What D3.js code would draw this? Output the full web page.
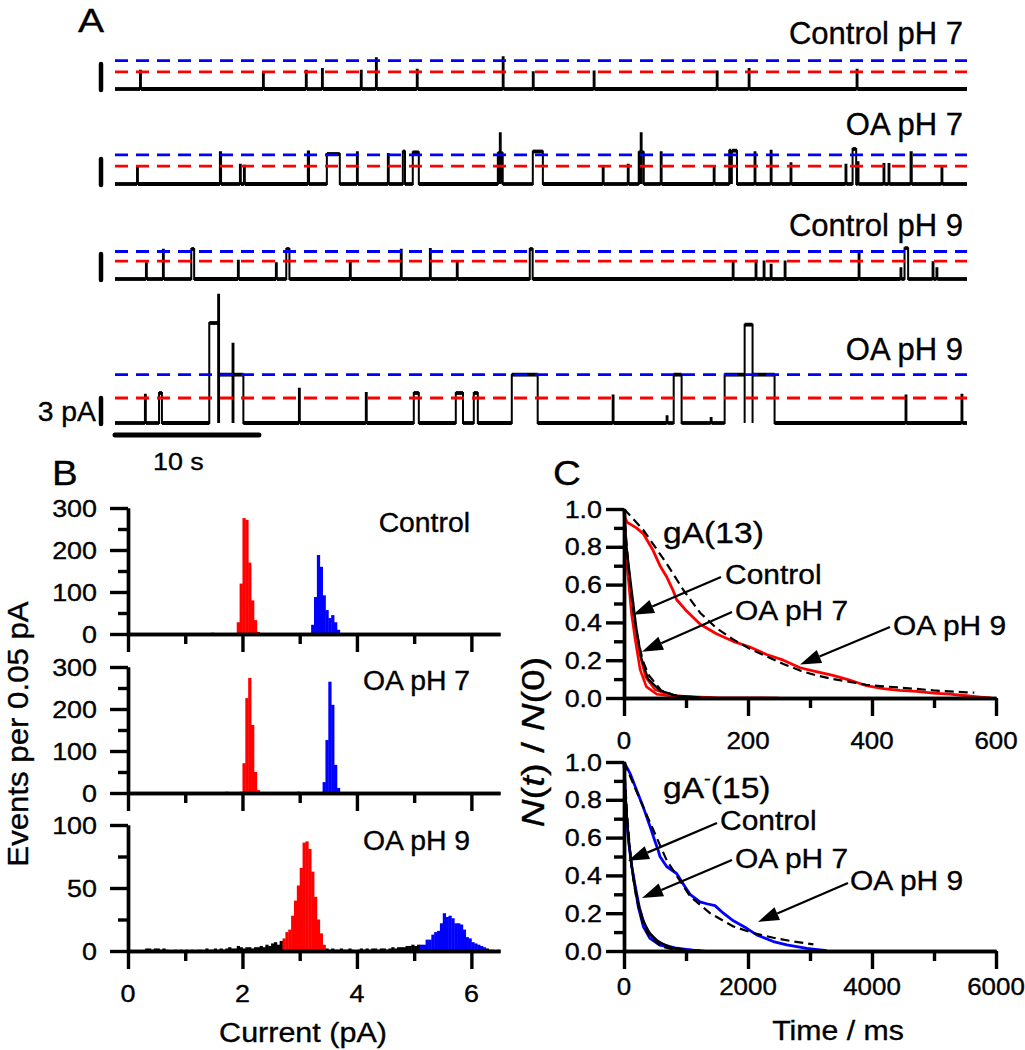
<!DOCTYPE html>
<html><head><meta charset="utf-8">
<script src="https://cdn.jsdelivr.net/npm/d3@7"></script>
<style>
body{margin:0;background:#fff}
svg{display:block}
text{font-family:"Liberation Sans",Arial,Helvetica,sans-serif;fill:#000;stroke:#000;stroke-width:0.35px}
</style>
</head><body>
<svg id="fig" width="1025" height="1050"></svg>
<script>
// ---------------- DATA ----------------
// Panel A: single-channel events [start (s), duration (s), amplitude (pA)]
const traceNames = ["Control pH 7", "OA pH 7", "Control pH 9", "OA pH 9"];
const redLevels = [2.05, 2.15, 2.15, 3.0];
const blueLevels = [3.4, 3.5, 3.3, 5.8];
const traceDuration = 59.2;
const ctl7Events = [[1.74,0.06,2.2],[10.28,0.06,1.8],[13.26,0.06,2.2],[14.38,0.06,2.4],[17.08,0.06,2.2],[18.13,0.06,3.7],[20.97,0.06,2.3],[26.94,0.06,3.8],[29.03,0.06,2.0],[33.26,0.06,2.1],[41.81,0.06,2.1],[44.03,0.06,2.4],[51.53,0.06,2.3]];
const oa7Events = [[1.53,0.06,2.1],[7.29,0.08,3.8],[8.68,0.06,2.3],[8.96,0.06,2.2],[13.40,0.08,3.9],[14.72,0.9,3.6],[16.81,0.06,3.8],[18.96,0.06,3.6],[20.0,0.15,3.9],[20.69,0.42,3.8],[26.6,0.14,3.7],[26.74,0.06,6.1],[26.8,0.14,3.7],[29.03,0.7,3.9],[33.89,0.06,2.0],[35.63,0.06,2.3],[36.39,0.14,3.8],[36.53,0.06,6.1],[36.59,0.15,3.8],[37.92,0.06,3.8],[41.6,0.06,2.0],[42.68,0.12,4.0],[42.80,0.06,0.3],[42.86,0.36,4.0],[44.44,0.06,3.8],[45.56,0.06,4.0],[46.94,0.06,2.5],[50.76,0.06,2.3],[51.25,0.25,4.2],[51.6,0.06,2.6],[53.4,0.06,2.4],[53.75,0.06,2.4],[55.28,0.08,3.8],[57.43,0.06,2.1]];
const ctl9Events = [[2.15,0.06,1.9],[3.33,0.06,3.5],[5.30,0.2,3.6],[8.54,0.06,2.2],[11.18,0.06,1.9],[11.90,0.22,3.6],[16.32,0.06,2.1],[19.86,0.06,3.5],[21.88,0.06,3.6],[23.75,0.06,2.1],[28.82,0.2,3.6],[42.92,0.06,2.1],[44.51,0.06,2.2],[45.07,0.06,2.1],[45.56,0.06,1.7],[46.53,0.06,2.1],[51.67,0.06,3.3],[54.58,0.06,1.3],[54.86,0.25,3.7],[56.81,0.06,2.0],[57.08,0.06,1.3]];
const oa9Events = [[2.08,0.06,3.4],[3.06,0.2,3.6],[6.55,0.62,12.0],[7.17,0.06,15.4],[7.23,0.94,5.8],[8.17,0.06,9.5],[8.23,0.69,5.8],[12.78,0.06,4.1],[17.43,0.06,3.6],[20.76,0.35,3.6],[23.68,0.5,3.6],[24.93,0.28,3.6],[27.57,1.8,5.8],[34.58,0.06,3.3],[38.33,0.06,0.8],[38.82,0.55,5.8],[41.39,0.06,0.6],[42.36,1.39,5.8],[43.75,0.55,11.8],[44.30,1.53,5.8],[54.93,0.06,3.3],[58.82,0.06,3.4]];
const traceEvents = [ctl7Events, oa7Events, ctl9Events, oa9Events];

// Panel B: histograms, bin width 0.05 pA
const binW = 0.05;
const histLabels = ["Control", "OA pH 7", "OA pH 9"];
const ctlRedStart = 1.90, ctlRedCounts = [28,120,276,272,170,80,33,5];
const ctlBlueStart = 3.20, ctlBlueCounts = [22,88,188,160,92,57,38,45,28,10];
const ctlBlackStarts = [0.30,1.35,1.45,1.60,1.70,1.80], ctlBlackCounts = [2,2,3,2,2,2];
const oa7RedStart = 1.95, oa7RedCounts = [3,71,226,274,162,50,7,2];
const oa7BlueStart = 3.40, oa7BlueCounts = [26,126,265,210,67,12];
const oa7BlackStarts = [0.30,0.40,1.30,1.45,1.60,1.70,2.35,2.85,2.95,3.75,4.20,4.35,4.55,5.60,6.00], oa7BlackCounts = [2,2,2,2,2,3,2,2,3,2,2,2,2,2,2];
const oa9RedStart = 2.70, oa9RedCounts = [10,15,17,28,40,52,66,86,87,81,63,43,25,14,5];
const oa9BlueStart = 5.10, oa9BlueCounts = [5,5,9,9,13,15,16,22,30,27,28,26,22,22,21,17,11,10,7,6,5,4,3];
const oa9BlackLeftStart = 0.30, oa9BlackLeftCounts = [2,2,1,2,2,1,2,1,0,0,1,0,1,0,1,0,1,0,1,1,0,2,1,1,2,1,2,1,2,3,2,2,4,3,2,3,3,2,3,3,4,3,5,4,6,7,5,8];
const oa9BlackMidStart = 3.45, oa9BlackMidCounts = [2,1,2,1,1,2,1,1,2,1,0,1,2,1,2,1,2,2,1,2,2,1,2,3,2,3,3,3,4,4,5,4,5];
const oa9BlackRightStart = 6.25, oa9BlackRightCounts = [2,1,1,0,1];

// Panel C: normalized survival N(t)/N(0), t in ms
const g13_oa9_t = [0,2,5,10,20,31,47,58,69,79,85,101,123,149,176,203,230,257,284,310,337,364,391,418,445,472,499,525,552,575,592];
const g13_oa9_n = [1.0,0.95,0.93,0.92,0.90,0.87,0.78,0.70,0.64,0.57,0.52,0.46,0.39,0.34,0.30,0.27,0.23,0.20,0.16,0.14,0.12,0.095,0.065,0.05,0.04,0.035,0.026,0.02,0.012,0.005,0.0];
const g13_oa9Fit_t = [0,31,69,96,123,149,176,203,230,257,284,310,337,364,391,418,445,472,499,525,552,565];
const g13_oa9Fit_n = [1.0,0.89,0.71,0.57,0.45,0.37,0.31,0.26,0.22,0.18,0.145,0.12,0.10,0.085,0.07,0.062,0.055,0.048,0.04,0.035,0.03,0.028];
const g13_ctl_t = [0,1.6,7,12,18,26,36,53,80,144,250];
const g13_ctl_n = [1,0.80,0.63,0.45,0.31,0.15,0.06,0.02,0.01,0.003,0];
const g13_oa7_t = [0,3,10,17,25,35,50,75,110,150];
const g13_oa7_n = [1,0.82,0.6,0.4,0.24,0.11,0.045,0.015,0.005,0];
const g13_blk_t = [0,4,12,20,28,39,58,85,123];
const g13_blk_n = [1,0.80,0.58,0.37,0.21,0.10,0.04,0.012,0.004];
const g13_fastFit_t = [0,5,10,15,20,30,40,60,80,100];
const g13_fastFit_n = [1,0.78,0.6,0.46,0.35,0.20,0.12,0.04,0.015,0.005];

const g15_oa9_t = [0,97,204,312,419,500,554,580,688,849,984,1065,1226,1334,1468,1603,1764,1980,2141,2410,2625,2948,3270];
const g15_oa9_n = [1.0,0.94,0.85,0.76,0.66,0.58,0.53,0.50,0.447,0.41,0.34,0.30,0.26,0.25,0.24,0.20,0.16,0.12,0.085,0.05,0.032,0.014,0.002];
const g15_oa9Fit_t = [0,312,688,1065,1387,1764,2087,2410,2733,3055];
const g15_oa9Fit_n = [1.0,0.76,0.48,0.29,0.20,0.13,0.095,0.07,0.05,0.035];
const g15_ctl_t = [0,10,30,70,124,177,231,312,419,581,796,1000,1226];
const g15_ctl_n = [1,0.9,0.75,0.59,0.447,0.34,0.23,0.128,0.066,0.03,0.014,0.006,0.002];
const g15_oa7_t = [0,15,40,80,130,190,250,330,450,620,850,1100,1300];
const g15_oa7_n = [1,0.88,0.72,0.57,0.44,0.33,0.23,0.14,0.075,0.035,0.015,0.005,0.0];
const g15_blk_t = [0,20,60,110,170,230,300,400,550,750,1000];
const g15_blk_n = [1,0.85,0.65,0.48,0.35,0.25,0.17,0.10,0.05,0.02,0.005];
const g15_fastFit_t = [0,50,100,150,200,300,400,600,800];
const g15_fastFit_n = [1,0.72,0.52,0.38,0.28,0.15,0.08,0.025,0.008];

// ---------------- DRAWING ----------------
const svg = d3.select("#fig");
svg.append("rect").attr("width", 1025).attr("height", 1050).attr("fill", "#fff");

function label(parent, x, y, str, o = {}) {
  const t = parent.append("text")
    .attr("transform", `translate(${x},${y})` + (o.rot ? ` rotate(${o.rot})` : "") + ` scale(${o.sx || 1},1)`)
    .attr("font-size", o.size || 24)
    .attr("text-anchor", o.anchor || "start");
  if (o.dy) t.attr("dy", o.dy);
  if (str !== null) t.text(str);
  return t;
}
function styleAxis(g) {
  g.selectAll("path,line").attr("stroke", "#000").attr("stroke-width", 3.4);
}
function drawAxis(parent, scale, orient, major, minor, tx, ty) {
  const mk = (vals, size) => (orient === "left" ? d3.axisLeft(scale) : d3.axisBottom(scale))
    .tickValues(vals).tickSize(size).tickSizeOuter(0).tickFormat("");
  const g1 = parent.append("g").attr("transform", `translate(${tx},${ty})`).call(mk(minor, 10));
  const g2 = parent.append("g").attr("transform", `translate(${tx},${ty})`).call(mk(major, 18));
  styleAxis(g1); styleAxis(g2);
}
function arrow(g, x1, y1, x2, y2) {
  const L = 21, W = 7;
  const dx = x2 - x1, dy = y2 - y1, len = Math.hypot(dx, dy), ux = dx / len, uy = dy / len;
  const bx = x2 - ux * L, by = y2 - uy * L;
  g.append("line").attr("x1", x1).attr("y1", y1).attr("x2", bx).attr("y2", by)
    .attr("stroke", "#000").attr("stroke-width", 2.2);
  g.append("polygon").attr("points", [[x2, y2], [bx - uy * W, by + ux * W], [bx + uy * W, by - ux * W]].map(p => p.join(",")).join(" "))
    .attr("fill", "#000");
}

// ===== Panel A =====
const gA = svg.append("g");
label(gA, 78, 32, "A", {size: 34, sx: 1.15});
const tA = d3.scaleLinear().domain([0, traceDuration]).range([115, 967]);
const baseA = [89, 184, 279, 423];
const labelYA = [44, 135, 236, 360];
traceEvents.forEach((ev, i) => {
  const y = d3.scaleLinear().domain([0, 3]).range([baseA[i], baseA[i] - 25]);
  const pts = [[0, 0]];
  const segs = [];
  let cur = 0;
  ev.forEach(e => {
    pts.push([e[0], e[2]]); pts.push([e[0] + e[1], 0]);
    if (e[0] > cur) segs.push([cur, e[0], 0]);
    segs.push([e[0], e[0] + e[1], e[2]]);
    cur = e[0] + e[1];
  });
  segs.push([cur, traceDuration, 0]);
  pts.push([traceDuration, 0]);
  const line = d3.line().x(d => tA(d[0])).y(d => y(d[1])).curve(d3.curveStepAfter);
  gA.append("path").attr("d", line(pts)).attr("fill", "none").attr("stroke", "#000")
    .attr("stroke-width", 2).attr("stroke-linejoin", "miter");
  // thicker level segments (noisy current band)
  gA.append("g").selectAll("line").data(segs.filter(s => s[1] - s[0] > 0.1)).join("line")
    .attr("x1", s => tA(s[0])).attr("x2", s => tA(s[1])).attr("y1", s => y(s[2])).attr("y2", s => y(s[2]))
    .attr("stroke", "#000").attr("stroke-width", 3.8);
  [[redLevels[i], "#ff0000"], [blueLevels[i], "#0000ff"]].forEach(([lv, c]) => {
    gA.append("line").attr("x1", tA(0)).attr("x2", tA(traceDuration)).attr("y1", y(lv)).attr("y2", y(lv))
      .attr("stroke", c).attr("stroke-width", 2.8).attr("stroke-dasharray", "13,8");
  });
  // vertical 3 pA scale bar
  gA.append("line").attr("x1", 101).attr("x2", 101).attr("y1", y(0) + 1).attr("y2", y(3))
    .attr("stroke", "#000").attr("stroke-width", 4.5).attr("stroke-linecap", "round");
  label(gA, 963, labelYA[i], traceNames[i], {size: 31, anchor: "end"});
});
// time scale bar 10 s
gA.append("line").attr("x1", tA(0)).attr("x2", tA(10)).attr("y1", 435).attr("y2", 435)
  .attr("stroke", "#000").attr("stroke-width", 5).attr("stroke-linecap", "round");
label(gA, 96, 421, "3 pA", {size: 27, anchor: "end", sx: 1.05});
label(gA, 153, 470, "10 s", {size: 24, sx: 1.12});

// ===== Panel B =====
const gB = svg.append("g");
label(gB, 52, 485, "B", {size: 35, sx: 1.1});
const xB = d3.scaleLinear().domain([0, 6.5]).range([128, 500]);
const bLayout = [
  {y0: 634, y1: 508, max: 300, major: [0,100,200,300], minor: [50,150,250], labY: 532},
  {y0: 793, y1: 667, max: 300, major: [0,100,200,300], minor: [50,150,250], labY: 690},
  {y0: 951, y1: 825, max: 100, major: [0,50,100], minor: [25,75], labY: 850}
];
const bHists = [
  [[ctlBlackStarts, ctlBlackCounts, "#000", true], [ctlRedStart, ctlRedCounts, "#ff0000"], [ctlBlueStart, ctlBlueCounts, "#0000ff"]],
  [[oa7BlackStarts, oa7BlackCounts, "#000", true], [oa7RedStart, oa7RedCounts, "#ff0000"], [oa7BlueStart, oa7BlueCounts, "#0000ff"]],
  [[oa9BlackLeftStart, oa9BlackLeftCounts, "#000"], [oa9BlackMidStart, oa9BlackMidCounts, "#000"], [oa9BlackRightStart, oa9BlackRightCounts, "#000"],
   [oa9RedStart, oa9RedCounts, "#ff0000"], [oa9BlueStart, oa9BlueCounts, "#0000ff"]]
];
const bw = xB(binW) - xB(0);
bLayout.forEach((L, k) => {
  const yS = d3.scaleLinear().domain([0, L.max]).range([L.y0, L.y1]);
  bHists[k].forEach(([start, counts, color, sparse]) => {
    const xs = sparse ? start : counts.map((_, i) => start + i * binW);
    gB.append("g").selectAll("rect").data(counts).join("rect")
      .attr("x", (d, i) => xB(xs[i])).attr("width", bw + 0.4)
      .attr("y", d => yS(d)).attr("height", d => yS(0) - yS(d))
      .attr("fill", color);
  });
  drawAxis(gB, yS, "left", L.major, L.minor, 128, 0);
  drawAxis(gB, xB, "bottom", [0,2,4,6], [1,3,5], 0, L.y0);
  L.major.forEach(v => label(gB, 97, yS(v), String(v), {size: 24, sx: 1.12, anchor: "end", dy: "0.36em"}));
  label(gB, 470, L.labY, histLabels[k], {size: 27, sx: 1.05, anchor: "end"});
});
[0,2,4,6].forEach(v => label(gB, xB(v), 1002, String(v), {size: 24, sx: 1.12, anchor: "middle"}));
label(gB, 303, 1042, "Current (pA)", {size: 28, sx: 1.09, anchor: "middle"});
label(gB, 28, 734, "Events per 0.05 pA", {size: 30, rot: -90, anchor: "middle", sx: 1.04});

// ===== Panel C =====
const gC = svg.append("g");
label(gC, 553, 485, "C", {size: 35, sx: 1.1});
const cPlots = [
  {x: d3.scaleLinear().domain([0, 600]).range([624, 996]), y: d3.scaleLinear().domain([0, 1]).range([698, 509]),
   xMajor: [0,200,400,600], xMinor: [100,300,500], xLabY: 749},
  {x: d3.scaleLinear().domain([0, 6000]).range([624, 996]), y: d3.scaleLinear().domain([0, 1]).range([951, 762]),
   xMajor: [0,2000,4000,6000], xMinor: [1000,3000,5000], xLabY: 995}
];
const cCurves = [
  [[g13_ctl_t, g13_ctl_n, "#ff0000", 2.6, null], [g13_oa7_t, g13_oa7_n, "#ff0000", 2.6, null],
   [g13_blk_t, g13_blk_n, "#000", 2.2, null], [g13_oa9_t, g13_oa9_n, "#ff0000", 2.8, null],
   [g13_fastFit_t, g13_fastFit_n, "#000", 2.2, "9,5"], [g13_oa9Fit_t, g13_oa9Fit_n, "#000", 2.2, "9,5"]],
  [[g15_ctl_t, g15_ctl_n, "#0000ff", 2.6, null], [g15_oa7_t, g15_oa7_n, "#0000ff", 2.6, null],
   [g15_blk_t, g15_blk_n, "#000", 2.2, null], [g15_oa9_t, g15_oa9_n, "#0000ff", 2.8, null],
   [g15_fastFit_t, g15_fastFit_n, "#000", 2.2, "9,5"], [g15_oa9Fit_t, g15_oa9Fit_n, "#000", 2.2, "9,5"]]
];
cPlots.forEach((P, k) => {
  cCurves[k].forEach(([ts, ns, color, w, dash]) => {
    const line = d3.line().x((d, i) => P.x(ts[i])).y(d => P.y(d));
    const p = gC.append("path").attr("d", line(ns)).attr("fill", "none").attr("stroke", color)
      .attr("stroke-width", w).attr("stroke-linejoin", "round");
    if (dash) p.attr("stroke-dasharray", dash);
  });
  drawAxis(gC, P.y, "left", [0,0.2,0.4,0.6,0.8,1.0], [0.1,0.3,0.5,0.7,0.9], 624, 0);
  drawAxis(gC, P.x, "bottom", P.xMajor, P.xMinor, 0, P.y(0));
  [0,0.2,0.4,0.6,0.8,1.0].forEach(v => label(gC, 602, P.y(v), v.toFixed(1), {size: 24, sx: 1.12, anchor: "end", dy: "0.36em"}));
  P.xMajor.forEach(v => label(gC, P.x(v), P.xLabY, String(v), {size: 24, sx: 1.08, anchor: "middle"}));
});
const [Pt, Pb] = cPlots;
label(gC, 663, 543, "gA(13)", {size: 30, sx: 1.12});
const g15 = label(gC, 663, 798, null, {size: 30, sx: 1.12});
g15.append("tspan").text("gA");
g15.append("tspan").attr("font-size", 18).attr("dy", -13).text("-");
g15.append("tspan").attr("dy", 13).text("(15)");
// annotations top
label(gC, 725, 584, "Control", {size: 28, sx: 1.07});
label(gC, 735, 620, "OA pH 7", {size: 28, sx: 1.07});
label(gC, 893, 635, "OA pH 9", {size: 28, sx: 1.07});
arrow(gC, 721, 577, Pt.x(14.5), Pt.y(0.44));
arrow(gC, 732, 612, Pt.x(29), Pt.y(0.245));
arrow(gC, 890, 627, Pt.x(284), Pt.y(0.177));
// annotations bottom
label(gC, 720, 830, "Control", {size: 28, sx: 1.07});
label(gC, 735, 868, "OA pH 7", {size: 28, sx: 1.07});
label(gC, 850, 890, "OA pH 9", {size: 28, sx: 1.07});
arrow(gC, 717, 823, Pb.x(65), Pb.y(0.477));
arrow(gC, 732, 860, Pb.x(290), Pb.y(0.28));
arrow(gC, 848, 883, Pb.x(2161), Pb.y(0.154));
label(gC, 838, 1040, "Time / ms", {size: 27, sx: 1.12, anchor: "middle"});
const yl = label(gC, 544, 742, null, {size: 32, rot: -90, anchor: "middle", sx: 1.2});
yl.append("tspan").attr("font-style", "italic").text("N");
yl.append("tspan").text("(");
yl.append("tspan").attr("font-style", "italic").text("t");
yl.append("tspan").text(") / ");
yl.append("tspan").attr("font-style", "italic").text("N");
yl.append("tspan").text("(0)");
</script>
</body></html>
